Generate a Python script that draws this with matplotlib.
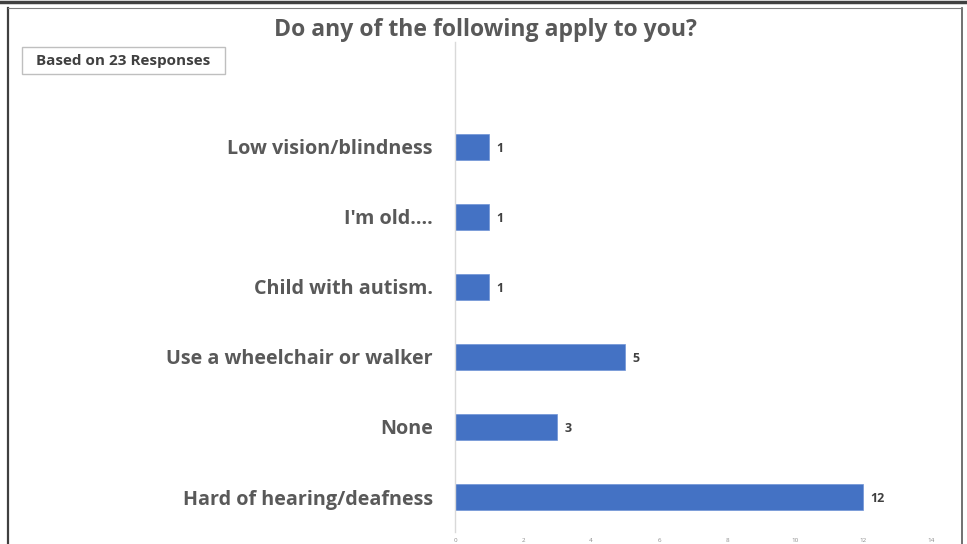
import matplotlib.pyplot as plt
from matplotlib.patches import Rectangle
from matplotlib.lines import Line2D

categories = ["Hard of hearing/deafness", "None", "Use a wheelchair or walker",
              "Child with autism.", "I'm old....", "Low vision/blindness"]
counts = [12, 3, 5, 1, 1, 1]
xticks = [0, 2, 4, 6, 8, 10, 12, 14]

plt.rcParams['font.family'] = ['Open Sans', 'DejaVu Sans']

W, H = 967, 544
fig = plt.figure(figsize=(W / 100, H / 100), dpi=100)

# outer frame of the chart object
fig.add_artist(Line2D([0, 1], [1 - 1.5 / H, 1 - 1.5 / H], color="#404040", lw=2.5))
fig.add_artist(Line2D([8 / W, 8 / W], [0, 1 - 8 / H], color="#404040", lw=1.6))
fig.add_artist(Line2D([962 / W, 962 / W], [0, 1 - 8 / H], color="#595959", lw=1.2))
fig.add_artist(Line2D([8 / W, 962 / W], [1 - 8 / H, 1 - 8 / H], color="#7f7f7f", lw=0.8))

ax = fig.add_axes([455 / W, 12 / H, 476 / W, 490 / H])
ypos = list(range(len(categories)))
bars = ax.barh(ypos, counts, height=0.36, color="#4472C4", edgecolor="#6f93d6", lw=0.5)
ax.set_xlim(0, 14)
ax.set_ylim(-0.5, len(categories) + 0.5)

ax.set_yticks(ypos)
ax.set_yticklabels(categories, fontsize=14.2, fontweight="bold", color="#595959")
ax.tick_params(axis="y", length=0, pad=16)
ax.set_xticks(xticks)
ax.set_xticklabels([str(t) for t in xticks], fontsize=4.5, color="#8c8c8c")
ax.tick_params(axis="x", length=0, pad=4)

for side in ["top", "right", "bottom"]:
    ax.spines[side].set_visible(False)
ax.spines["left"].set_color("#d9d9d9")
ax.spines["left"].set_linewidth(1)

for b, v in zip(bars, counts):
    ax.text(v + 0.22, b.get_y() + b.get_height() / 2 - 0.025, str(v), va="center", ha="left",
            fontsize=9, fontweight="bold", color="#404040")

fig.text(485 / W, 1 - 30 / H, "Do any of the following apply to you?", ha="center", va="center",
         fontsize=16.6, fontweight="bold", color="#595959")

fig.add_artist(Rectangle((22 / W, 1 - 74 / H), 203 / W, 27 / H, transform=fig.transFigure,
                         facecolor="white", edgecolor="#bfbfbf", lw=1))
fig.text(123.5 / W, 1 - 61 / H, "Based on 23 Responses", ha="center", va="center",
         fontsize=11, fontweight="bold", color="#404040")

fig.savefig("out.png", dpi=100)
